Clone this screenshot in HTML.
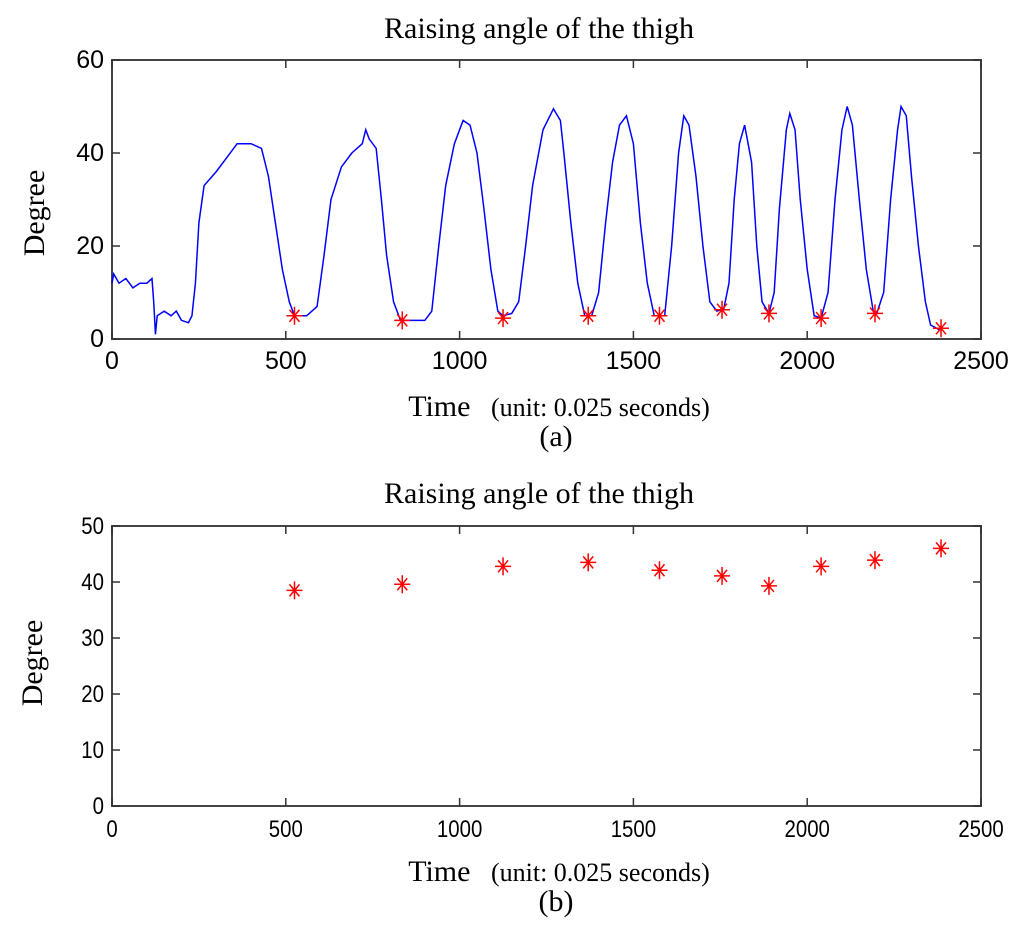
<!DOCTYPE html>
<html><head><meta charset="utf-8"><style>
body{margin:0;background:#fff}
svg{display:block}
.t{font-family:"Liberation Serif",serif;fill:#000}
.k{font-family:"Liberation Sans",sans-serif;fill:#000}
</style></head><body>
<svg id="s" width="1024" height="936" viewBox="0 0 1024 936">
<text class="t" x="539" y="38" font-size="30" text-anchor="middle">Raising angle of the thigh</text>
<text class="t" x="559" y="416" font-size="30" text-anchor="middle">Time <tspan font-size="26">&#160;&#160;(unit: 0.025 seconds)</tspan></text>
<text class="t" x="556" y="446" font-size="30" text-anchor="middle">(a)</text>
<text class="t" x="0" y="0" font-size="30" text-anchor="middle" transform="translate(44,213) rotate(-90)" fill="#222">Degree</text>
<text class="t" x="539" y="503" font-size="30" text-anchor="middle">Raising angle of the thigh</text>
<text class="t" x="559" y="881" font-size="30" text-anchor="middle">Time <tspan font-size="26">&#160;&#160;(unit: 0.025 seconds)</tspan></text>
<text class="t" x="556" y="911" font-size="30" text-anchor="middle">(b)</text>
<text class="t" x="0" y="0" font-size="30" text-anchor="middle" transform="translate(42,663) rotate(-90)" fill="#222">Degree</text>
<g id="ga"></g>
<g id="gb"></g>
</svg>
<script>
const lineT=[0,5,20,40,60,80,100,115,120,125,130,150,170,185,200,220,230,240,250,265,300,330,360,400,430,450,470,490,510,525,545,560,590,610,630,660,690,720,730,740,760,775,790,810,830,900,920,940,960,985,1010,1030,1050,1070,1090,1110,1125,1150,1170,1190,1210,1240,1270,1290,1300,1320,1340,1360,1380,1400,1420,1440,1460,1480,1500,1520,1540,1560,1590,1610,1630,1645,1660,1680,1700,1720,1740,1760,1775,1790,1805,1820,1840,1855,1870,1890,1905,1920,1940,1950,1965,1980,2000,2020,2040,2060,2080,2100,2115,2130,2150,2170,2190,2200,2220,2240,2260,2270,2285,2300,2320,2340,2355,2380,2385];
const lineV=[12,14,12,13,11,12,12,13,8,1,5,6,5,6,4,3.5,5,12,25,33,36,39,42,42,41,35,25,15,8,5,5,5,7,18,30,37,40,42,45,43,41,30,18,8,4,4,6,20,33,42,47,46,40,28,15,6,5,5.5,8,20,33,45,49.5,47,40,25,12,5,5,10,25,38,46,48,42,25,12,5,5,20,40,48,46,35,20,8,6,6.5,12,30,42,46,38,20,8,5.5,10,28,45,48.5,45,30,15,5,4.5,10,30,45,50,46,30,15,6,5.5,10,30,45,50,48,35,20,8,3,2,2];
const minT=[525,835,1125,1370,1575,1755,1890,2040,2195,2385];
const minV=[5,4,4.5,5,5,6.3,5.5,4.5,5.5,2.3];
const angV=[38.5,39.6,42.8,43.5,42.1,41.1,39.3,42.8,43.9,46.0];
const xTicks=[0,500,1000,1500,2000,2500];
const yTicksA=[0,20,40,60];
const yTicksB=[0,10,20,30,40,50];
const NS="http://www.w3.org/2000/svg";
function mk(p,tag,at){const e=document.createElementNS(NS,tag);for(const k in at)e.setAttribute(k,at[k]);p.appendChild(e);return e;}
function axes(g,L,R,T,B,ymax,yt,pre,fs,sxk,xoff){
  const sx=v=>L+(R-L)*v/2500, sy=v=>B-(B-T)*v/ymax;
  const f=mk(g,'rect',{x:L,y:T,width:R-L,height:B-T,fill:'none',stroke:'#444','stroke-width':2});
  
  
  xTicks.forEach(v=>{const x=sx(v);
    mk(g,'line',{x1:x,x2:x,y1:B,y2:B-8,stroke:'#333','stroke-width':1.5});
    mk(g,'line',{x1:x,x2:x,y1:T,y2:T+8,stroke:'#333','stroke-width':1.5});
    const t=mk(g,'text',{x:0,y:0,class:'k','font-size':fs,'text-anchor':'middle',transform:`translate(${x},${B+xoff}) scale(${sxk},1)`});t.textContent=v;
    
    });
  yt.forEach(v=>{const y=sy(v);
    mk(g,'line',{x1:L,x2:L+8,y1:y,y2:y,stroke:'#333','stroke-width':1.5});
    mk(g,'line',{x1:R,x2:R-8,y1:y,y2:y,stroke:'#333','stroke-width':1.5});
    const t=mk(g,'text',{x:0,y:0,class:'k','font-size':fs,'text-anchor':'end',transform:`translate(${L-8},${y+8}) scale(${sxk},1)`});t.textContent=v;
    
    });
  return [sx,sy];
}
function star(g,x,y,name){
  const s=mk(g,'path',{d:`M${x-8},${y}H${x+8}M${x},${y-9}V${y+9}M${x-5},${y-6}L${x+5},${y+6}M${x-5},${y+6}L${x+5},${y-6}`,stroke:'#f00','stroke-width':1.5,fill:'none'});
  
  
}
const ga=document.getElementById('ga');
const [ax,ay]=axes(ga,112,981,60,339,60,yTicksA,'chart-a',25,1,30);
const pl=mk(ga,'polyline',{points:lineT.map((t,i)=>ax(t)+','+ay(lineV[i])).join(' '),fill:'none',stroke:'#00f','stroke-width':1.5});


minT.forEach((t,i)=>star(ga,ax(t),ay(minV[i]),'minimum-marker'));
const gb=document.getElementById('gb');
const [bx,by]=axes(gb,112,981,526,806,50,yTicksB,'chart-b',24,0.85,31);
minT.forEach((t,i)=>star(gb,bx(t),by(angV[i]),'raising-angle-point'));
</script>
</body></html>
